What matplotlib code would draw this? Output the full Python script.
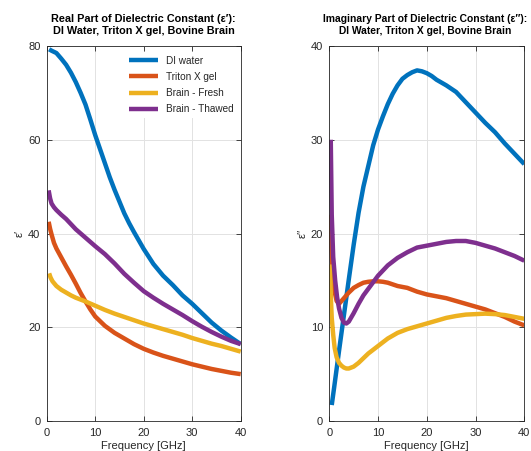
import matplotlib
matplotlib.use("Agg")
import matplotlib.pyplot as plt

plt.rcParams['font.family'] = ['Liberation Sans', 'DejaVu Sans']

# ---------------- data ----------------
labels = ["DI water", "Triton X gel", "Brain - Fresh", "Brain - Thawed"]
colors = ["#0072BD", "#D95319", "#EDB120", "#7E2F8E"]

# Real part
f_di_re = [0.5, 1, 2, 3, 4, 5, 6, 7, 8, 9, 10, 11, 12, 13, 14, 15, 16, 17, 18, 20,
           22, 24, 26, 28, 30, 32, 34, 36, 38, 40]
di_re = [79.3, 79.0, 78.5, 77.3, 76.0, 74.3, 72.3, 70.0, 67.5, 64.3, 61.0, 58.0, 55.0,
         52.0, 49.3, 46.8, 44.3, 42.2, 40.3, 36.7, 33.5, 31.0, 29.0, 26.8, 25.0, 23.0,
         21.0, 19.3, 17.8, 16.4]

f_tr_re = [0.4, 0.7, 1, 1.5, 2, 3, 4, 5, 6, 7, 8, 9, 10, 12, 14, 16, 18, 20, 22, 24,
           26, 28, 30, 32, 34, 36, 38, 40]
tr_re = [42.5, 41.0, 39.8, 38.0, 36.8, 34.9, 33.0, 31.2, 29.3, 27.3, 25.5, 23.8, 22.3,
         20.3, 18.8, 17.6, 16.4, 15.4, 14.6, 13.9, 13.3, 12.7, 12.1, 11.6, 11.1, 10.7,
         10.3, 10.0]

f_fr_re = [0.5, 0.8, 1.2, 2, 3, 4, 5, 6, 7, 8, 10, 12, 14, 16, 18, 20, 22, 24, 26, 28,
           30, 32, 34, 36, 38, 40]
fr_re = [31.5, 30.6, 29.8, 28.8, 28.0, 27.4, 26.8, 26.3, 25.9, 25.5, 24.6, 23.7, 22.9,
         22.2, 21.5, 20.8, 20.2, 19.6, 19.0, 18.4, 17.7, 17.1, 16.5, 16.0, 15.4, 14.8]

f_th_re = [0.4, 0.7, 1, 1.5, 2, 3, 4, 5, 6, 7, 8, 10, 12, 14, 16, 18, 20, 22, 24, 26,
           28, 30, 32, 34, 36, 38, 40]
th_re = [49.2, 47.5, 46.4, 45.6, 45.0, 44.0, 43.1, 42.0, 40.9, 40.0, 39.1, 37.3, 35.6,
         33.6, 31.4, 29.5, 27.7, 26.3, 25.0, 23.8, 22.6, 21.3, 20.1, 19.0, 18.0, 17.1, 16.4]

# Imaginary part
f_di_im = [0.5, 1, 2, 3, 4, 5, 6, 7, 8, 9, 10, 11, 12, 13, 14, 15, 16, 17, 18, 19, 20,
           21, 22, 24, 26, 28, 30, 32, 34, 36, 38, 40]
di_im = [1.7, 3.6, 7.5, 11.3, 15.1, 18.8, 22.2, 25.0, 27.2, 29.4, 31.1, 32.5, 33.8,
         34.9, 35.8, 36.5, 36.9, 37.2, 37.4, 37.3, 37.1, 36.8, 36.4, 35.8, 35.1, 34.0,
         32.9, 31.8, 30.8, 29.6, 28.5, 27.4]

f_tr_im = [0.2, 0.4, 0.7, 1, 1.5, 2, 3, 4, 5, 6, 7, 8, 9, 10, 11, 12, 14, 16, 18, 20,
           22, 24, 26, 28, 30, 32, 34, 36, 38, 40]
tr_im = [22.0, 18.5, 15.5, 14.0, 12.8, 12.5, 13.1, 13.7, 14.2, 14.5, 14.75, 14.85, 14.9,
         14.9, 14.85, 14.75, 14.4, 14.2, 13.8, 13.5, 13.3, 13.1, 12.8, 12.5, 12.2, 11.9,
         11.5, 11.1, 10.6, 10.2]

f_fr_im = [0.15, 0.3, 0.5, 0.8, 1.1, 1.5, 2, 2.5, 3, 3.5, 4, 5, 6, 7, 8, 9, 10, 12, 14,
           16, 18, 20, 22, 24, 26, 28, 30, 32, 34, 36, 38, 40]
fr_im = [16.7, 13.5, 11.0, 9.2, 7.8, 6.8, 6.2, 5.9, 5.7, 5.6, 5.6, 5.8, 6.2, 6.7, 7.2,
         7.6, 8.0, 8.8, 9.4, 9.8, 10.1, 10.4, 10.7, 11.0, 11.2, 11.35, 11.4, 11.45, 11.4,
         11.3, 11.1, 10.9]

f_th_im = [0.3, 0.5, 0.8, 1.2, 1.6, 2, 2.5, 3, 3.5, 4, 5, 6, 7, 8, 9, 10, 12, 14, 16,
           18, 20, 22, 24, 26, 28, 30, 32, 34, 36, 38, 40]
th_im = [30.0, 22.0, 17.5, 15.0, 13.2, 12.0, 11.0, 10.5, 10.4, 10.6, 11.5, 12.5, 13.4,
         14.1, 14.8, 15.5, 16.6, 17.4, 18.0, 18.5, 18.7, 18.9, 19.1, 19.2, 19.2, 19.0,
         18.7, 18.4, 18.0, 17.6, 17.1]

xticks = [0, 10, 20, 30, 40]
yticks_re = [0, 20, 40, 60, 80]
yticks_im = [0, 10, 20, 30, 40]

# ---------------- figure ----------------
W, H = 531, 451
fig = plt.figure(figsize=(W / 100, H / 100), dpi=100)
ax1 = fig.add_axes([46.7 / W, 30 / H, 194 / W, 375 / H])
ax2 = fig.add_axes([329.3 / W, 30 / H, 195 / W, 375 / H])

axcol = '#262626'
lw = 3.2

def style(ax, yticks, ylim):
    ax.set_xlim(0, 40)
    ax.set_ylim(*ylim)
    ax.set_xticks(xticks)
    ax.set_yticks(yticks)
    ax.grid(True, color='#e2e2e2', linewidth=0.7)
    ax.set_axisbelow(True)
    ax.tick_params(direction='in', top=True, right=True, length=3.5, width=0.6,
                   colors=axcol, labelsize=8, labelcolor=axcol)
    ax.tick_params(axis='x', pad=5)
    ax.tick_params(axis='y', pad=4.5)
    for s in ax.spines.values():
        s.set_color(axcol)
        s.set_linewidth(0.6)
    ax.set_xlabel("Frequency [GHz]", fontsize=8, color=axcol, labelpad=2.5)

re_sets = [(f_di_re, di_re), (f_tr_re, tr_re), (f_fr_re, fr_re), (f_th_re, th_re)]
im_sets = [(f_di_im, di_im), (f_tr_im, tr_im), (f_fr_im, fr_im), (f_th_im, th_im)]

for (f, v), c, lab in zip(re_sets, colors, labels):
    ax1.plot(f, v, color=c, lw=lw, label=lab, solid_capstyle='butt')
for (f, v), c, lab in zip(im_sets, colors, labels):
    ax2.plot(f, v, color=c, lw=lw, label=lab, solid_capstyle='butt')

style(ax1, yticks_re, (0, 80))
style(ax2, yticks_im, (0, 40))

ax1.set_ylabel("ε′", fontsize=8, color=axcol)
ax1.yaxis.set_label_coords(-0.112, 0.5)
ax2.set_ylabel("ε′′", fontsize=8, color=axcol)
ax2.yaxis.set_label_coords(-0.109, 0.5)

ax1.set_title("Real Part of Dielectric Constant (ε′):\nDI Water, Triton X gel, Bovine Brain",
              fontsize=7.8, fontweight='bold', pad=9, linespacing=1.2)
ax2.set_title("Imaginary Part of Dielectric Constant (ε′′):\nDI Water, Triton X gel, Bovine Brain",
              fontsize=7.4, fontweight='bold', pad=9, linespacing=1.25, x=0.49)

leg = ax1.legend(loc='upper left', bbox_to_anchor=(0.38, 0.998), fontsize=7.2,
                 frameon=True, fancybox=False, edgecolor='none', facecolor='white',
                 framealpha=1, handlelength=2.9, handletextpad=0.75, labelspacing=0.62,
                 borderpad=0.4)
for t in leg.get_texts():
    t.set_color(axcol)

fig.savefig("out.png", dpi=100)
